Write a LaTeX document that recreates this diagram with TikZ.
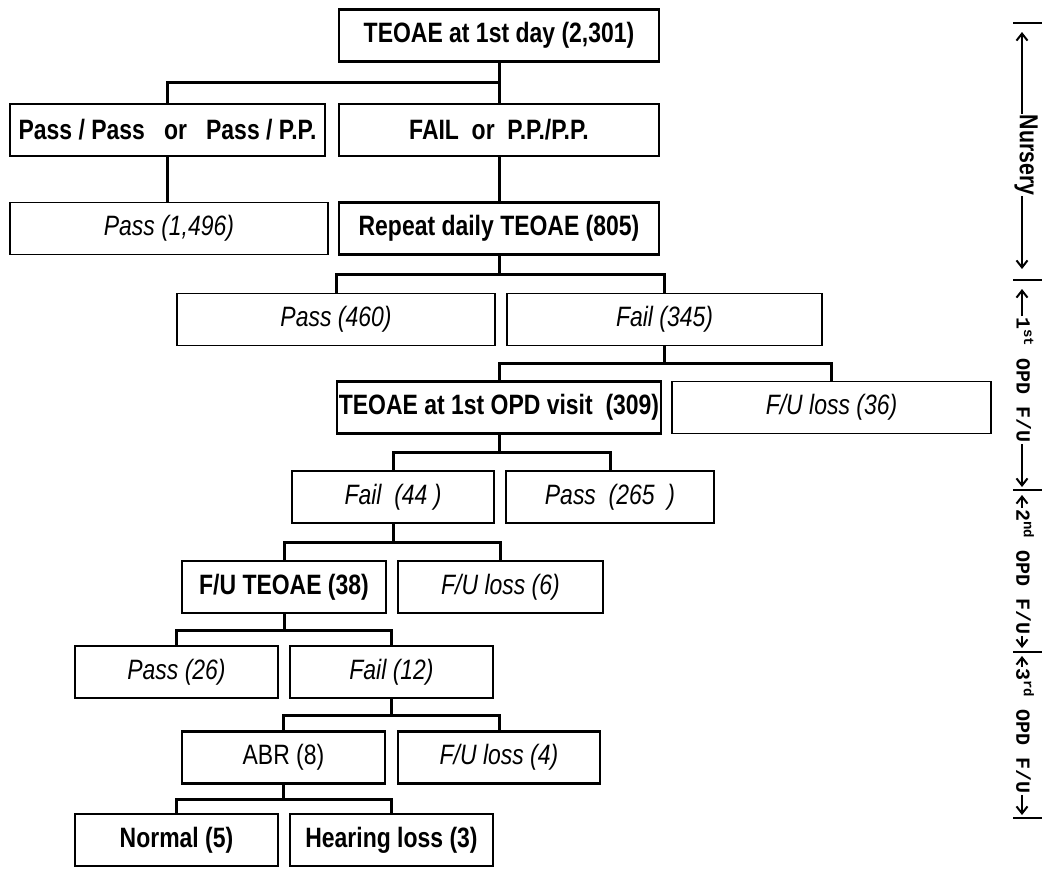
\documentclass[tikz,border=0pt]{standalone}
\usepackage{fontspec}
\setmainfont{Liberation Sans}[FakeStretch=0.82]
\newfontfamily\rulerfont{Liberation Mono}
\usetikzlibrary{arrows.meta}
\begin{document}
\begin{tikzpicture}[x=1pt,y=-1pt,
  flowbox/.style={draw,line width=1.3pt,minimum height=52pt,inner sep=2pt},
  heavybox/.style={flowbox,line width=2.4pt},
  boldlabel/.style={font=\fontsize{28}{32}\selectfont\bfseries},
  itlabel/.style={font=\fontsize{28}{32}\selectfont\itshape},
  uplabel/.style={font=\fontsize{28}{32}\selectfont},
  treelink/.style={line width=3pt},
  rulerlabel/.style={font=\rulerfont\bfseries\fontsize{20}{22}\selectfont,rotate=-90,inner sep=1pt},
  rulerline/.style={line width=2pt},
  rulerarrow/.style={rulerline,-{Straight Barb[length=7pt,width=11pt,line width=2pt]}}]
\useasboundingbox (0,0) rectangle (1049,868);

% tree boxes, level by level
\node[heavybox,boldlabel,minimum width=320pt] (t0) at (499,35.5) {TEOAE at 1st day (2,301)};
\node[flowbox,boldlabel,minimum width=315pt] (pp) at (167.5,130) {Pass / Pass\ \ \ or\ \ \ Pass / P.P.};
\node[flowbox,boldlabel,minimum width=320pt] (fp) at (499,130) {FAIL\ \ or\ \ P.P./P.P.};
\node[flowbox,itlabel,minimum width=318pt] (p1496) at (169,228.5) {Pass (1,496)};
\node[heavybox,boldlabel,minimum width=320pt] (rep) at (499,228.5) {Repeat daily TEOAE (805)};
\node[flowbox,itlabel,minimum width=318pt] (p460) at (336,319.5) {Pass (460)};
\node[flowbox,itlabel,minimum width=315pt] (f345) at (664.5,319.5) {Fail (345)};
\node[heavybox,boldlabel,minimum width=320pt] (opd) at (499,407.5) {TEOAE at 1st OPD visit\ \ (309)};
\node[flowbox,itlabel,minimum width=319pt] (l36) at (831.5,407.5) {F/U loss (36)};
\node[flowbox,itlabel,minimum width=202pt] (f44) at (393,497) {Fail\ \ (44 )};
\node[flowbox,itlabel,minimum width=208pt] (p265) at (610,497) {Pass\ \ (265\ \ )};
\node[heavybox,boldlabel,minimum width=204pt] (fut) at (284,587) {F/U TEOAE (38)};
\node[heavybox,itlabel,minimum width=205pt] (l6) at (500.5,587) {F/U loss (6)};
\node[heavybox,itlabel,minimum width=203pt] (p26) at (176.5,672) {Pass (26)};
\node[heavybox,itlabel,minimum width=203pt] (f12) at (391.5,672) {Fail (12)};
\node[heavybox,uplabel,minimum width=203pt] (abr) at (283.5,757.5) {ABR (8)};
\node[heavybox,itlabel,minimum width=202pt] (l4) at (499,757.5) {F/U loss (4)};
\node[heavybox,boldlabel,minimum width=203pt] (nor) at (176.5,840) {Normal (5)};
\node[heavybox,boldlabel,minimum width=203pt] (hear) at (391.5,840) {Hearing loss (3)};

% forks
\foreach \p/\a/\b/\y in {t0/pp/fp/82, rep/p460/f345/274, f345/opd/l36/363, opd/f44/p265/452,
    f44/fut/l6/542, fut/p26/f12/630, f12/abr/l4/715, abr/nor/hear/799}{
  \draw[treelink] (\p.south) -- (\p.south |- 0,\y);
  \draw[treelink] (\a.north) |- (\p.south |- 0,\y) -| (\b.north);
}
\draw[treelink] (pp.south) -- (pp.south |- p1496.north);
\draw[treelink] (fp.south) -- (fp.south |- rep.north);

% stages on the right
\coordinate (k0) at (1022,23);
\coordinate (k1) at (1022,280);
\coordinate (k2) at (1022,490);
\coordinate (k3) at (1022,652);
\coordinate (k4) at (1022,818);
\foreach \k in {k0,k1,k2,k3,k4}
  \draw[rulerline] (\k) ++(-9,0) -- ++(29,0);
\node[rulerlabel,font=\fontsize{26}{28}\selectfont\bfseries] (nur) at (1026,155) {Nursery};
\node[rulerlabel] (fu1) at (1025,380) {1\textsuperscript{st} OPD F/U};
\node[rulerlabel] (fu2) at (1025,572) {2\textsuperscript{nd} OPD F/U};
\node[rulerlabel] (fu3) at (1025,731) {3\textsuperscript{rd} OPD F/U};
\draw[rulerarrow,shorten >=9pt] (k0 |- nur.west) -- (k0);
\draw[rulerarrow,shorten >=11pt] (k1 |- nur.east) -- (k1);
\draw[rulerarrow,shorten >=9pt] (k1 |- fu1.west) -- (k1);
\draw[rulerarrow,shorten >=3pt] (k2 |- fu1.east) -- (k2);
\draw[rulerarrow,shorten >=5pt] (k2 |- fu2.west) -- (k2);
\draw[rulerarrow,shorten >=4pt] (k3 |- fu2.east) -- (k3);
\draw[rulerarrow,shorten >=4pt] (k3 |- fu3.west) -- (k3);
\draw[rulerarrow,shorten >=3pt] (k4 |- fu3.east) -- (k4);
\end{tikzpicture}
\end{document}
